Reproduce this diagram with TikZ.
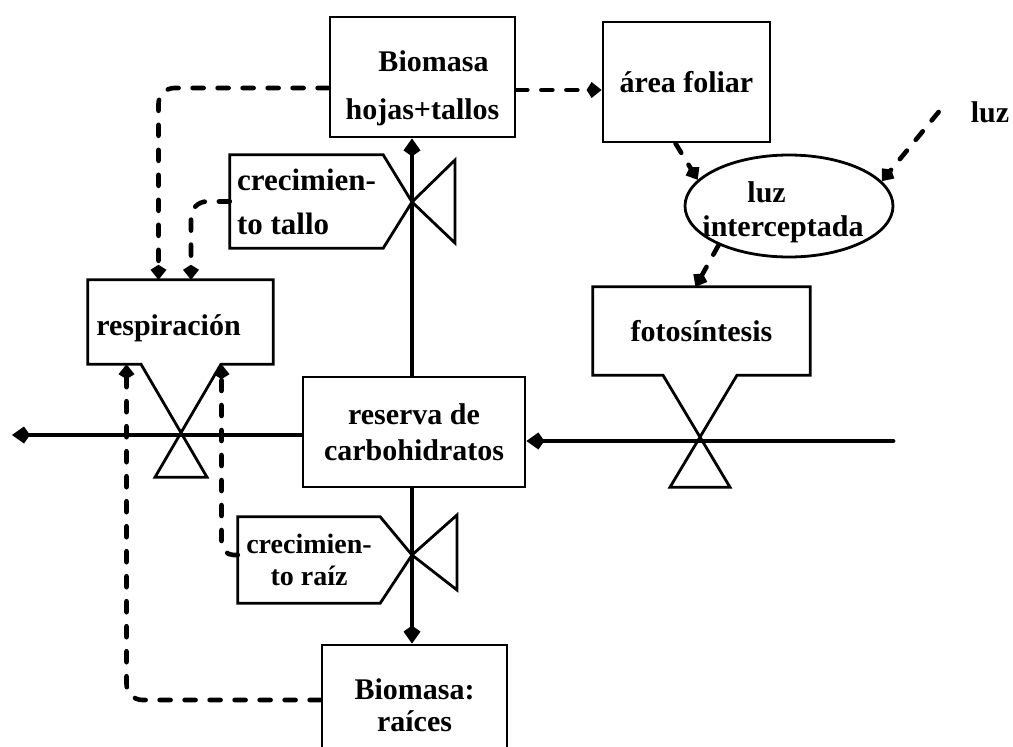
\documentclass[tikz,border=0pt]{standalone}
\usepackage{fontspec}
\setmainfont{Liberation Serif}
\usetikzlibrary{arrows.meta,shapes.geometric,calc}
\begin{document}
\begin{tikzpicture}[x=1pt,y=-1pt,
  box/.style={draw, line width=2.8pt, inner sep=0pt, align=center, font=\fontsize{30}{36}\selectfont\bfseries},
  txt/.style={inner sep=0pt, align=center, font=\fontsize{30}{36}\selectfont\bfseries},
  shp/.style={line width=2.8pt, line join=miter},
  flow/.style={line width=4.8pt, -{Kite[length=18pt,width=17pt,inset=6pt]}},
  info/.style={line width=4.6pt, line cap=round, dash pattern=on 11pt off 14pt, -{Kite[length=15pt,width=16pt,inset=5pt]}, rounded corners=16pt},
]
\clip (0,0) rectangle (1013,747);
\fill[white] (0,0) rectangle (1013,747);

% stocks and auxiliaries
\node[box, minimum width=185pt, minimum height=120pt, font=\fontsize{30}{48}\selectfont\bfseries] (bht) at (422.5,77)
  {\raisebox{-9pt}[\height][\depth]{\begin{tabular}{@{}c@{}}\hspace*{22pt}Biomasa\\hojas+tallos\end{tabular}}};
\node[box, minimum width=167pt, minimum height=120pt] (af) at (686.5,82) {área foliar};
\node[draw, ellipse, shp, minimum width=208pt, minimum height=102pt, inner sep=0pt, font=\fontsize{30}{34}\selectfont\bfseries] (li) at (789,206)
  {\makebox[0pt]{\kern-12pt\smash{\raisebox{-13pt}{\begin{tabular}{@{}l@{}}\hspace*{45pt}luz\\interceptada\end{tabular}}}}};
\node[txt] (lz) at (990,112) {luz};
\node[txt, minimum width=217pt, minimum height=88pt] (fs) at (701.5,331) {fotosíntesis};
\node[txt, minimum width=185pt, minimum height=84pt] (resp) at (180.5,322)
  {\hspace*{-24pt}\raisebox{-6pt}[\height][\depth]{respiración}};
\node[box, minimum width=222pt, minimum height=110pt] (res) at (414,432) {reserva de\\carbohidratos};
\node[box, minimum width=185pt, minimum height=120pt, font=\fontsize{30}{32}\selectfont\bfseries] (brz) at (414.5,705) {Biomasa:\\raíces};
\node[txt, minimum width=153pt, minimum height=93pt, align=left, font=\fontsize{31}{44}\selectfont\bfseries] (ct) at (306.5,201.5) {crecimien-\\to tallo};
\node[txt, minimum width=142pt, minimum height=86pt, font=\fontsize{28}{32}\selectfont\bfseries] (cr) at (309,560) {crecimien-\\to raíz};

% valve centres and free ends
\coordinate (v1) at (412,202);
\coordinate (v2) at (412,555);
\coordinate (srcR) at (893,441);
\coordinate (sinkL) at (12,435);

% rate (valve) shapes
\draw[shp] (ct.north west) -- (ct.north east) -- (v1) -- (ct.south east) -- (ct.south west) -- cycle;
\draw[shp] (v1) -- ++(43,-42) -- ++(0,83) -- cycle;
\draw[shp] (cr.north west) -- (cr.north east) -- (v2) -- (cr.south east) -- (cr.south west) -- cycle;
\draw[shp] (v2) -- ++(45,-40) -- ++(0,75) -- cycle;
\draw[shp] (resp.south west) -- ($(resp.south)+(-39.5,0)$) -- ++(66,113) -- ++(-52,0)
  -- ($(resp.south)+(40.5,0)$) -- (resp.south east) -- (resp.north east) -- (resp.north west) -- cycle;
\draw[shp] (fs.south west) -- ($(fs.south)+(-38.5,0)$) -- ++(67,112) -- ++(-60,0)
  -- ($(fs.south)+(35.5,0)$) -- (fs.south east) -- (fs.north east) -- (fs.north west) -- cycle;

% material flows
\draw[flow] (res.north -| v1) -- (bht.south -| v1);
\draw[flow] (res.south -| v2) -- (brz.north -| v2);
\draw[flow, line cap=round] (srcR) -- (srcR -| res.east);
\draw[flow] (sinkL -| res.west) -- (sinkL);

% information links
\draw[info] ($(bht.east)+(0,13)$) -- ($(af.west)+(0,8)$);
\draw[info] ($(bht.west)+(0,11)$) -| ($(resp.north)+(-22,0)$);
\draw[info] (ct.west) -| ($(resp.north)+(10.5,0)$);
\draw[info] ($(af.south)+(-11,0)$) -- (li.164);
\draw[info] ($(lz.west)+(-32,0)$) -- (li.15);
\draw[info] (li.209) -- ($(fs.north)+(-6,0)$);
\draw[info] ($(brz.west)+(0,-5)$) -| ($(resp.south)+(-54,0)$);
\draw[info, rounded corners=12pt] ($(cr.west)+(0,-5)$) -| ($(resp.south)+(41,0)$);
\end{tikzpicture}
\end{document}
